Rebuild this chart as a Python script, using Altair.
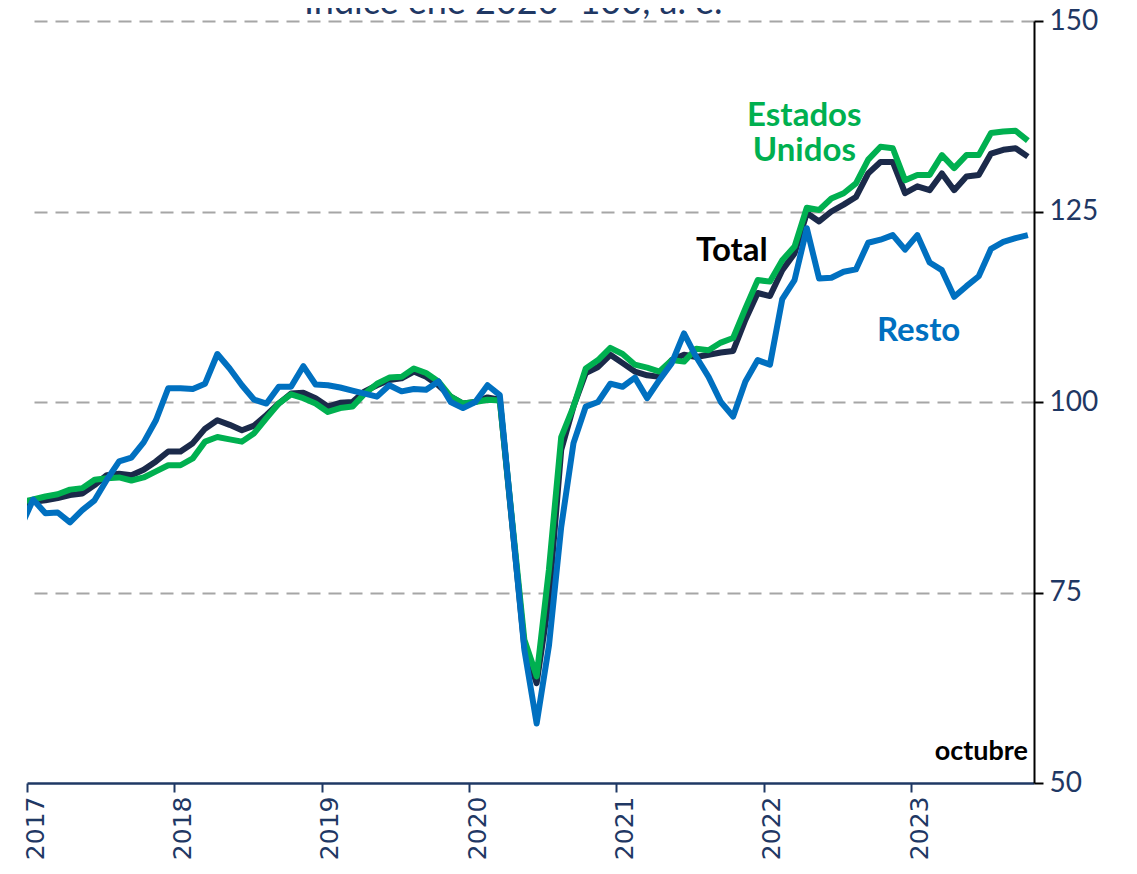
import altair as alt
import pandas as pd

# monthly, Dec 2016 .. Oct 2023 (Dec 2016 only feeds the clipped left edge)
months = ["2016-12"] + [f"{y}-{m:02d}" for y in range(2017, 2024) for m in range(1, 13)][:82]

resto = [83.6,
         87.2, 85.4, 85.5, 84.2, 85.8, 87.1, 89.8, 92.2, 92.7, 94.7, 97.6, 101.8,
         101.8, 101.7, 102.4, 106.3, 104.4, 102.2, 100.3, 99.8, 102.0, 102.0, 104.7, 102.3,
         102.2, 101.9, 101.5, 101.1, 100.7, 102.2, 101.4, 101.7, 101.6, 102.7, 100.0, 99.2,
         100.0, 102.2, 100.9, 84.2, 67.5, 57.8, 68.0, 83.6, 94.6, 99.4, 100.0, 102.4,
         102.0, 103.2, 100.5, 102.9, 105.1, 109.0, 105.9, 103.3, 100.0, 98.1, 102.7, 105.5,
         104.9, 113.5, 116.0, 122.8, 116.2, 116.3, 117.1, 117.4, 120.9, 121.3, 121.9, 120.0,
         121.9, 118.3, 117.3, 113.8, 115.2, 116.5, 120.1, 121.0, 121.5, 121.9]

total = [86.3,
         86.9, 87.1, 87.4, 87.8, 88.0, 89.1, 90.4, 90.6, 90.4, 91.1, 92.2, 93.5,
         93.5, 94.6, 96.5, 97.6, 97.0, 96.3, 96.9, 98.3, 99.8, 101.1, 101.2, 100.5,
         99.4, 99.9, 100.0, 101.4, 102.2, 102.9, 103.1, 104.0, 103.3, 102.2, 100.7, 99.8,
         100.0, 100.6, 100.3, 84.1, 67.9, 63.1, 74.0, 93.7, 99.4, 103.8, 104.6, 106.2,
         105.1, 104.0, 103.5, 103.3, 105.5, 106.2, 105.9, 106.2, 106.5, 106.7, 110.8, 114.3,
         113.9, 117.3, 119.5, 124.8, 123.7, 125.0, 125.9, 126.9, 130.0, 131.5, 131.5, 127.4,
         128.3, 127.8, 130.0, 127.8, 129.6, 129.8, 132.6, 133.1, 133.3, 132.2]

eeuu = [86.9,
        87.2, 87.6, 87.9, 88.5, 88.7, 89.8, 90.0, 90.1, 89.7, 90.1, 90.9, 91.7,
        91.7, 92.6, 94.8, 95.4, 95.1, 94.8, 95.9, 97.9, 99.8, 101.0, 100.5, 99.8,
        98.7, 99.2, 99.4, 101.1, 102.4, 103.2, 103.3, 104.4, 103.8, 102.7, 100.7, 99.8,
        100.0, 100.3, 100.2, 84.5, 68.8, 64.0, 78.0, 95.4, 99.4, 104.4, 105.5, 107.1,
        106.3, 104.9, 104.5, 104.0, 105.5, 105.3, 107.0, 106.8, 107.8, 108.4, 112.3, 116.0,
        115.8, 118.6, 120.4, 125.5, 125.2, 126.7, 127.4, 128.7, 131.8, 133.5, 133.3, 129.1,
        129.8, 129.8, 132.4, 130.7, 132.4, 132.4, 135.3, 135.5, 135.6, 134.3]

year_ticks = [0, 12, 24, 36, 48, 60, 72]
y_ticks = [50, 75, 100, 125, 150]

series_names = ["Total", "Estados Unidos", "Resto"]
series_colors = ["#1B2A4A", "#00B050", "#0070C0"]

label_text = ["Estados\nUnidos", "Total", "Resto"]
label_x = [63.3, 57.4, 72.6]
label_y = [136.2, 118.5, 108.0]
label_color = ["#00B050", "#000000", "#0070C0"]

NAVY = "#1F3864"

pos = [i - 0.5 for i in range(len(months))]
rows = []
for name, vals in zip(series_names, [total, eeuu, resto]):
    for p, m, v in zip(pos, months, vals):
        rows.append({"pos": p, "mes": m, "valor": v, "serie": name})
df = pd.DataFrame(rows)

xscale = alt.Scale(domain=[0, 82], nice=False, zero=False)
yscale = alt.Scale(domain=[50, 150], nice=False, zero=False)

xaxis = alt.Axis(values=year_ticks, labelExpr="'' + (2017 + datum.value / 12)",
                 labelAngle=270, labelFont="DejaVu Sans", labelFontSize=25, labelColor=NAVY,
                 domainColor=NAVY, domainWidth=2.5, tickColor=NAVY, tickSize=9,
                 tickWidth=2, labelPadding=4, labelOffset=8, grid=False, title=None)
yaxis = alt.Axis(values=y_ticks, orient="right", labelFont="Lato", labelFontSize=28,
                 labelColor=NAVY, domainColor="#000000", domainWidth=2,
                 tickColor="#000000", tickSize=9, tickWidth=2, labelPadding=6,
                 grid=True, gridDash=[13, 8], gridColor="#A6A6A6", gridWidth=2,
                 gridOpacity={"condition": {"test": "datum.value == 50", "value": 0}, "value": 1},
                 title=None)


def X(field):
    return alt.X(field, scale=xscale, axis=xaxis)


def Y(field):
    return alt.Y(field, scale=yscale, axis=yaxis)


layers = []
for name, col in zip(series_names, series_colors):
    layers.append(
        alt.Chart(df).transform_filter(alt.datum.serie == name)
        .mark_line(color=col, strokeWidth=6, clip=True, strokeJoin="round", strokeCap="butt")
        .encode(x=X("pos:Q"), y=Y("valor:Q"))
    )

lab_df = pd.DataFrame({"x": label_x, "y": label_y, "t": label_text, "c": label_color})
labels = alt.Chart(lab_df).mark_text(font="Lato", fontSize=33, fontWeight="bold",
                                     align="center", baseline="alphabetic",
                                     lineBreak="\n", lineHeight=35).encode(
    x=X("x:Q"), y=Y("y:Q"), text="t:N",
    color=alt.Color("c:N", scale=None),
)

oct_df = pd.DataFrame({"x": [81.5], "y": [53.0], "t": ["octubre"]})
oct_label = alt.Chart(oct_df).mark_text(font="Lato", fontSize=27, fontWeight="bold",
                                        align="right", baseline="alphabetic",
                                        color="#000000").encode(
    x=X("x:Q"), y=Y("y:Q"), text="t:N",
)

title_df = pd.DataFrame({"x": [39.6], "y": [150.9], "t": ["Índice ene 2020=100, a. e."]})
title_mark = alt.Chart(title_df).mark_text(font="Lato", fontSize=36, align="center",
                                           baseline="alphabetic", color=NAVY).encode(
    x=X("x:Q"), y=Y("y:Q"), text="t:N",
)

chart = alt.layer(*layers, labels, oct_label, title_mark).properties(
    width=1007, height=762,
    autosize=alt.AutoSizeParams(type="none"),
    padding={"left": 19, "top": 13, "right": 95, "bottom": 82},
).configure_view(stroke=None)

chart.save("out.html", embed_options={"renderer": "svg", "actions": False})
